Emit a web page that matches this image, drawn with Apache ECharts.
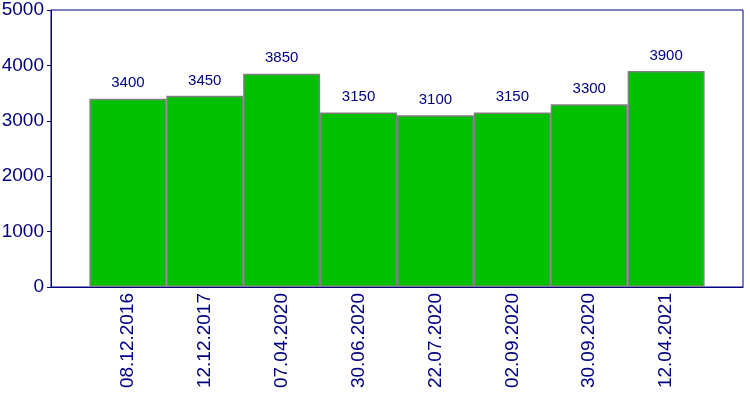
<!DOCTYPE html>
<html>
<head>
<meta charset="utf-8">
<script src="https://cdn.jsdelivr.net/npm/echarts@6/dist/echarts.min.js"></script>
<style>
  html, body { margin: 0; padding: 0; background: #ffffff; }
  #chart { width: 750px; height: 400px; }
</style>
</head>
<body>
<div id="chart"></div>
<script>
// dates under the bars
const categories = ['08.12.2016', '12.12.2017', '07.04.2020', '30.06.2020',
                    '22.07.2020', '02.09.2020', '30.09.2020', '12.04.2021'];
const values = [3400, 3450, 3850, 3150, 3100, 3150, 3300, 3900];
const yTicks = [0, 1000, 2000, 3000, 4000, 5000];

const navy = '#000080';
const font = 'Liberation Sans, Arial, sans-serif';

const chart = echarts.init(document.getElementById('chart'));
chart.setOption({
  animation: false,
  grid: {
    left: 51,
    top: 10,
    right: 7,
    bottom: 113,
    outerBoundsMode: 'none',
    show: true,
    borderColor: navy,
    borderWidth: 1
  },
  xAxis: {
    type: 'value',
    min: -1,
    max: categories.length,
    interval: 1,
    axisLine: { show: true, onZero: false, lineStyle: { color: navy } },
    axisTick: { show: false },
    splitLine: { show: false },
    axisLabel: {
      rotate: 90,
      margin: 6,
      color: navy,
      fontSize: 19,
      fontFamily: font,
      formatter: function (v) {
        return categories[v] || '';
      }
    }
  },
  yAxis: {
    type: 'value',
    min: yTicks[0],
    max: yTicks[yTicks.length - 1],
    interval: 1000,
    axisLine: { show: true, onZero: false, lineStyle: { color: navy } },
    axisTick: { show: true, length: 4, lineStyle: { color: navy } },
    splitLine: { show: false },
    axisLabel: {
      margin: 7,
      color: navy,
      fontSize: 19,
      fontFamily: font,
      formatter: function (v) { return String(v); }
    }
  },
  series: [{
    type: 'bar',
    barWidth: 77,
    data: values.map((v, i) => [i, v]),
    itemStyle: {
      color: '#00c000',
      borderColor: '#808080',
      borderWidth: 1.5
    },
    label: {
      show: true,
      position: 'top',
      distance: 8,
      color: navy,
      fontSize: 15,
      fontFamily: font,
      formatter: function (p) { return p.value[1]; }
    }
  }]
});
</script>
</body>
</html>
